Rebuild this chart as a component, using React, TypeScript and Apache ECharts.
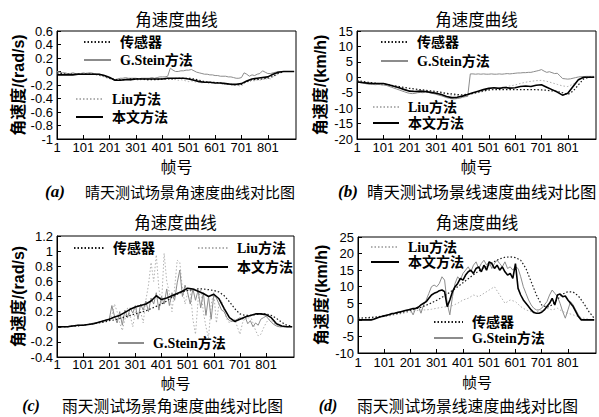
import React, { useEffect, useRef } from 'react';
import * as echarts from 'echarts';

// Frame grids
const F20 = [1, 21, 41, 61, 81, 101, 121, 141, 161, 181,
  201, 221, 241, 261, 281, 301, 321, 341, 361, 381,
  401, 421, 441, 461, 481, 501, 521, 541, 561, 581,
  601, 621, 641, 661, 681, 701, 721, 741, 761, 781,
  801, 821, 841, 861, 881, 901];
const F10 = [1, 11, 21, 31, 41, 51, 61, 71, 81, 91,
  101, 111, 121, 131, 141, 151, 161, 171, 181, 191,
  201, 211, 221, 231, 241, 251, 261, 271, 281, 291,
  301, 311, 321, 331, 341, 351, 361, 371, 381, 391,
  401, 411, 421, 431, 441, 451, 461, 471, 481, 491,
  501, 511, 521, 531, 541, 551, 561, 571, 581, 591,
  601, 611, 621, 631, 641, 651, 661, 671, 681, 691,
  701, 711, 721, 731, 741, 751, 761, 771, 781, 791,
  801, 811, 821, 831, 841, 851, 861, 871, 881, 891,
  901];
const X_TICKS = [1, 101, 201, 301, 401, 501, 601, 701, 801];

// (a) sunny, angular velocity
const A_SENSOR = [-0.02, -0.03, -0.04, -0.04, -0.04, -0.04, -0.04, -0.04, -0.05, -0.07,
  -0.10, -0.12, -0.12, -0.12, -0.11, -0.11, -0.11, -0.12, -0.12, -0.12,
  -0.11, -0.11, -0.11, -0.10, -0.10, -0.10, -0.11, -0.13, -0.15, -0.16,
  -0.16, -0.17, -0.18, -0.19, -0.20, -0.19, -0.15, -0.12, -0.12, -0.11,
  -0.10, -0.07, -0.03, 0, 0, 0];
const A_OURS = [-0.05, -0.05, -0.05, -0.05, -0.04, -0.04, -0.04, -0.04, -0.04, -0.06,
  -0.09, -0.13, -0.13, -0.12, -0.12, -0.11, -0.11, -0.11, -0.11, -0.11,
  -0.11, -0.10, -0.10, -0.10, -0.10, -0.11, -0.13, -0.15, -0.16, -0.16,
  -0.17, -0.17, -0.18, -0.19, -0.19, -0.18, -0.14, -0.11, -0.10, -0.09,
  -0.08, -0.04, -0.01, 0, 0, 0];
const A_GSTEIN = [0.00, -0.01, -0.02, -0.02, -0.03, -0.03, -0.02, -0.03, -0.03, -0.03,
  -0.02, -0.03, -0.02, -0.02, -0.03, -0.04, -0.04, -0.05, -0.06, -0.08,
  -0.09, -0.11, -0.12, -0.11, -0.10, -0.10, -0.09, -0.10, -0.10, -0.10,
  -0.10, -0.11, -0.10, -0.10, -0.10, -0.10, -0.09, -0.10, -0.09, -0.08,
  -0.08, -0.08, -0.07, 0.05, 0.02, 0.00, 0.00, 0.01, 0.01, 0.02,
  0.02, 0.03, 0.01, -0.01, -0.02, -0.03, -0.04, -0.04, -0.05, -0.05,
  -0.06, -0.06, -0.07, -0.07, -0.07, -0.08, -0.08, -0.09, -0.10, -0.10,
  -0.09, -0.02, -0.04, -0.07, -0.05, -0.06, -0.04, -0.03, 0.01, -0.01,
  -0.03, -0.03, -0.02, -0.01, 0.00, 0.00, 0.00, 0.00, 0.00, 0.00,
  0.00];
const A_LIU = [-0.02, -0.03, -0.01, -0.04, -0.03, -0.04, -0.02, -0.04, -0.03, -0.04,
  -0.03, -0.02, -0.04, -0.03, -0.04, -0.05, -0.06, -0.07, -0.08, -0.10,
  -0.11, -0.12, -0.13, -0.12, -0.13, -0.12, -0.11, -0.12, -0.13, -0.12,
  -0.12, -0.13, -0.12, -0.12, -0.13, -0.12, -0.11, -0.12, -0.12, -0.11,
  -0.12, -0.11, -0.10, -0.11, -0.12, -0.12, -0.13, -0.12, -0.13, -0.14,
  -0.15, -0.14, -0.15, -0.16, -0.15, -0.17, -0.16, -0.17, -0.18, -0.17,
  -0.18, -0.17, -0.18, -0.19, -0.18, -0.19, -0.20, -0.19, -0.20, -0.21,
  -0.22, -0.17, -0.15, -0.16, -0.13, -0.14, -0.12, -0.13, -0.11, -0.12,
  -0.10, -0.11, -0.08, -0.06, -0.03, -0.01, 0.00, 0.00, 0.00, 0.00,
  0.00];

// (b) sunny, linear velocity
const B_SENSOR = [-1.0, -1.3, -1.6, -1.8, -2.0, -2.1, -2.4, -2.7, -3.0, -3.3,
  -3.6, -3.8, -4.0, -4.2, -4.4, -4.6, -4.9, -5.2, -5.4, -5.6,
  -5.7, -5.5, -5.2, -4.8, -4.4, -4.1, -4.0, -4.0, -4.0, -4.0,
  -4.0, -4.0, -4.0, -4.0, -4.0, -4.1, -4.2, -4.4, -4.6, -5.0,
  -5.6, -4.5, -2.5, -0.5, 0, 0];
const B_OURS = [-1.5, -1.7, -1.9, -2.0, -2.0, -2.0, -2.4, -2.9, -3.4, -4.0,
  -4.5, -4.6, -4.5, -4.6, -4.9, -5.2, -5.6, -6.2, -6.6, -6.5,
  -6.1, -5.6, -5.0, -4.5, -4.0, -3.6, -3.4, -3.6, -3.3, -3.5,
  -3.4, -3.0, -2.8, -3.0, -2.6, -2.4, -3.2, -4.0, -4.8, -5.8,
  -5.2, -3.0, -0.8, 0, 0, 0];
const B_GSTEIN = [-1.5, -1.7, -1.9, -2.0, -2.2, -2.3, -2.3, -2.4, -2.3, -2.4,
  -2.5, -2.6, -2.9, -3.2, -3.5, -3.8, -4.1, -4.4, -4.7, -5.0,
  -5.2, -5.3, -5.2, -5.0, -4.9, -5.0, -4.8, -4.9, -5.1, -5.3,
  -5.5, -5.8, -6.0, -6.3, -6.6, -6.8, -7.0, -7.0, -6.9, -6.8,
  -6.5, -6.3, -6.2, 1.1, 1.1, 1.0, 1.1, 1.0, 1.1, 1.0,
  1.0, 1.1, 1.0, 1.0, 1.1, 1.0, 1.1, 1.2, 1.1, 1.2,
  1.3, 1.4, 1.4, 1.5, 1.5, 1.6, 1.6, 1.8, 2.0, 2.2,
  2.5, 2.0, 1.6, 1.8, 1.5, 1.2, 1.3, 0.5, -0.4, -0.5,
  -0.6, -0.5, -0.3, -0.1, 0.1, 0.2, 0.2, 0.3, 0.3, 0.3,
  0.3];
const B_LIU = [-1.3, -1.6, -1.9, -2.1, -2.3, -2.5, -2.8, -3.1, -3.5, -3.9,
  -4.3, -4.5, -4.6, -4.7, -4.8, -5.0, -5.2, -5.5, -5.8, -6.0,
  -6.0, -5.7, -5.4, -5.0, -4.6, -4.2, -3.8, -3.4, -3.1, -2.8,
  -2.5, -2.0, -1.6, -1.3, -1.1, -1.0, -1.3, -1.8, -2.3, -2.8,
  -3.0, -2.2, -1.0, -0.2, 0, 0];

// (c) rainy, angular velocity
const C_SENSOR = [0.00, 0.00, 0.00, 0.01, 0.01, 0.02, 0.03, 0.04, 0.05, 0.06,
  0.08, 0.09, 0.11, 0.13, 0.15, 0.17, 0.19, 0.21, 0.24, 0.27,
  0.30, 0.34, 0.39, 0.43, 0.46, 0.48, 0.49, 0.50, 0.50, 0.49,
  0.48, 0.46, 0.41, 0.33, 0.24, 0.17, 0.15, 0.15, 0.16, 0.17,
  0.17, 0.15, 0.11, 0.06, 0.02, 0.01];
const C_OURS = [0.00, 0.00, 0.00, 0.01, 0.02, 0.02, 0.03, 0.04, 0.06, 0.08,
  0.10, 0.13, 0.15, 0.19, 0.23, 0.26, 0.28, 0.30, 0.34, 0.41,
  0.36, 0.38, 0.41, 0.44, 0.47, 0.51, 0.50, 0.47, 0.44, 0.40,
  0.43, 0.37, 0.24, 0.12, 0.07, 0.10, 0.13, 0.15, 0.17, 0.17,
  0.16, 0.12, 0.04, 0.01, 0.00, 0.00];
const C_GSTEIN = [0.00, 0.00, 0.00, 0.00, 0.00, 0.01, 0.01, 0.01, 0.02, 0.02,
  0.02, 0.03, 0.03, 0.04, 0.05, 0.05, 0.06, 0.07, 0.08, 0.09,
  0.10, 0.28, 0.14, 0.05, 0.20, 0.02, 0.22, 0.12, 0.25, 0.18,
  0.28, 0.10, 0.30, 0.22, 0.34, 0.20, 0.38, 0.30, 0.45, 0.22,
  0.40, 0.30, 0.50, 0.28, 0.45, 0.35, 0.58, 0.75, 0.40, 0.55,
  0.45, 0.30, 0.50, 0.35, 0.48, 0.25, 0.45, 0.15, 0.40, 0.10,
  0.42, 0.38, 0.30, 0.22, 0.20, 0.12, 0.08, 0.07, 0.08, 0.10,
  0.12, 0.10, 0.13, 0.04, 0.08, 0.00, 0.05, 0.02, 0.10, 0.12,
  0.14, 0.10, 0.06, 0.03, 0.01, 0.00, 0.00, 0.00, 0.00, 0.00,
  0.00];
const C_LIU = [0.00, 0.00, 0.00, 0.00, 0.00, 0.00, 0.01, 0.01, 0.01, 0.02,
  0.02, 0.03, 0.03, 0.04, 0.04, 0.05, 0.06, 0.07, 0.08, 0.09,
  0.10, 0.15, 0.30, 0.20, 0.05, -0.05, 0.10, 0.25, 0.15, 0.00,
  0.20, 0.30, 0.20, 0.05, 0.35, 0.55, 0.85, 0.60, 0.95, 0.50,
  0.30, 0.97, 0.60, 0.45, 0.20, 0.50, 0.88, 0.85, 0.50, 0.30,
  0.45, 0.50, 0.10, -0.10, 0.35, 0.50, 0.20, 0.00, -0.15, 0.30,
  0.45, 0.05, 0.30, 0.35, 0.20, 0.10, 0.05, 0.08, 0.10, 0.00,
  -0.10, 0.05, 0.12, 0.10, 0.15, 0.05, -0.05, -0.12, -0.10, -0.02,
  0.05, 0.10, 0.08, 0.05, 0.02, 0.00, 0.00, 0.00, 0.00, 0.00,
  0.00];

// (d) rainy, linear velocity
const D_SENSOR = [0.5, 0.6, 0.7, 0.8, 1.0, 1.2, 1.5, 1.8, 2.1, 2.5,
  2.9, 3.3, 3.8, 4.4, 5.1, 5.9, 6.8, 7.8, 8.9, 10.0,
  11.2, 12.4, 13.6, 14.7, 15.7, 16.6, 17.6, 18.4, 18.9, 19.0,
  18.8, 18.0, 15.5, 11.5, 7.5, 4.5, 3.8, 4.5, 6.2, 7.8,
  8.5, 8.4, 7.2, 5.0, 2.5, 0.5];
const D_OURS = [0, 0, 0, 0, 0, 0, 0.2, 0.5, 0.8, 1.0,
  1.2, 1.4, 1.6, 1.9, 2.0, 2.2, 2.4, 2.6, 2.8, 3.0,
  3.2, 3.4, 3.5, 3.8, 4.5, 5.0, 5.5, 6.5, 7.5, 8.0,
  8.3, 8.8, 9.0, 8.5, 4.0, 6.0, 8.5, 10.0, 11.0, 12.5,
  12.0, 13.5, 14.5, 15.0, 14.0, 15.5, 16.0, 14.5, 16.5, 15.0,
  17.5, 17.0, 15.5, 16.5, 15.0, 16.0, 14.5, 13.5, 14.0, 12.5,
  17.0, 9.5, 7.5, 6.0, 5.0, 4.0, 3.0, 2.2, 2.0, 2.0,
  2.3, 3.0, 4.0, 5.0, 6.5, 4.5, 7.5, 7.8, 7.0, 7.2,
  6.0, 5.0, 4.0, 2.5, 1.0, 0, 0, 0, 0, 0,
  0];
const D_GSTEIN = [0, 0, 0, 0, 0, 0, 0.3, 0.6, 0.8, 1.0,
  1.2, 1.5, 1.7, 1.8, 2.1, 2.3, 2.5, 2.5, 2.8, 3.0,
  3.0, 1.5, 3.5, 4.0, 2.0, 4.5, 6.0, 8.0, 10.0, 10.5,
  10.0, 11.0, 13.0, 12.0, 5.0, 1.5, 7.0, 11.0, 13.0, 12.0,
  14.0, 15.0, 16.0, 14.5, 16.5, 17.5, 15.5, 17.0, 18.0, 16.5,
  17.5, 15.5, 17.0, 18.0, 17.0, 16.0, 17.5, 15.5, 16.0, 15.0,
  16.0, 15.5, 13.0, 10.0, 8.0, 6.0, 4.5, 3.5, 3.0, 3.0,
  3.5, 4.5, 5.5, 7.5, 9.0, 8.0, 7.0, 5.0, 2.5, 0.5,
  3.0, 5.5, 4.5, 3.0, 1.5, 0.3, 0, 0, 0, 0,
  0];
const D_LIU = [0.2, 0.3, 0.4, 0.6, 0.8, 1.0, 1.2, 1.5, 1.8, 2.1,
  2.4, 2.7, 3.0, 3.0, 3.2, 3.5, 3.8, 4.0, 4.3, 5.0,
  6.0, 6.5, 7.5, 7.0, 8.0, 9.0, 10.0, 7.5, 5.0, 6.0,
  5.5, 4.0, 3.0, 2.5, 2.5, 2.8, 3.5, 3.0, 3.5, 2.5,
  2.0, 1.5, 1.0, 0.5, 0.2, 0];

const N_SENSOR = '传感器';
const N_GSTEIN = 'G.Stein方法';
const N_LIU = 'Liu方法';
const N_OURS = '本文方法';

const TITLE = '角速度曲线';
const X_NAME = '帧号';
const Y_NAMES = ['角速度/(rad/s)', '角速度/(km/h)', '角速度/(rad/s)', '角速度/(km/h)'];
const CAPTION_TAGS = ['(a)', '(b)', '(c)', '(d)'];
const CAPTIONS = ['晴天测试场景角速度曲线对比图', '晴天测试场景线速度曲线对比图', '雨天测试场景角速度曲线对比图', '雨天测试场景线速度曲线对比图'];

const FONT_SANS = "'Liberation Sans', Arial, 'Noto Sans CJK SC', sans-serif";
const FONT_SERIF = "'Liberation Serif', 'Times New Roman', 'Noto Sans CJK SC', serif";
const FONT_CJK = "'Noto Sans CJK SC', sans-serif";

const pair = (xs: number[], ys: number[]) => xs.map((x, i) => [x, ys[i]]);

const PANEL_DATA = [
  { sensor: pair(F20, A_SENSOR), gstein: pair(F10, A_GSTEIN), liu: pair(F10, A_LIU), ours: pair(F20, A_OURS) },
  { sensor: pair(F20, B_SENSOR), gstein: pair(F10, B_GSTEIN), liu: pair(F20, B_LIU), ours: pair(F20, B_OURS) },
  { sensor: pair(F20, C_SENSOR), gstein: pair(F10, C_GSTEIN), liu: pair(F10, C_LIU), ours: pair(F20, C_OURS) },
  { sensor: pair(F20, D_SENSOR), gstein: pair(F10, D_GSTEIN), liu: pair(F20, D_LIU), ours: pair(F10, D_OURS) },
];

const GRIDS = [
  { left: 57, top: 31, width: 239, height: 108 },
  { left: 357, top: 31, width: 239, height: 108 },
  { left: 57, top: 236, width: 237, height: 121 },
  { left: 358, top: 237, width: 238, height: 116 },
];
const Y_RANGES = [
  { min: -1, max: 0.6, interval: 0.2 },
  { min: -20, max: 15, interval: 5 },
  { min: -0.4, max: 1.2, interval: 0.2 },
  { min: -10, max: 25, interval: 5 },
];
const X_NAME_GAPS = [19, 19, 18, 21];
const X_NAME_SIZES = [16, 16, 15, 15];
const X_LABEL_MARGINS = [2, 2, 1, 3];

const STYLES: Record<string, any> = {
  [N_SENSOR]: { color: '#1a1a1a', width: 1.2, type: [1.5, 2] },
  [N_GSTEIN]: { color: '#8c8c8c', width: 1, type: 'solid' },
  [N_LIU]: { color: '#b0b0b0', width: 1, type: [1.5, 2] },
  [N_OURS]: { color: '#000000', width: 1.6, type: 'solid' },
};

function buildOption() {
  const grid = GRIDS.map((g) => ({ ...g, show: true, borderColor: '#000', borderWidth: 1, backgroundColor: 'transparent' }));
  const xAxis = GRIDS.map((_, i) => ({
    type: 'value', gridIndex: i, min: 1, max: 908, interval: 100,
    name: X_NAME, nameLocation: 'middle', nameGap: X_NAME_GAPS[i],
    nameTextStyle: { fontFamily: FONT_CJK, fontSize: X_NAME_SIZES[i], color: '#000' },
    axisLine: { show: true, onZero: false, lineStyle: { color: '#000', width: 1 } },
    axisTick: { show: true, inside: true, length: 4, customValues: X_TICKS, lineStyle: { color: '#000' } },
    axisLabel: {
      customValues: X_TICKS, margin: X_LABEL_MARGINS[i], color: '#000', fontFamily: FONT_SANS, fontSize: 13,
      formatter: (v: number) => (X_TICKS.indexOf(v) >= 0 ? String(v) : ''),
    },
    splitLine: { show: false },
  }));
  const yAxis = GRIDS.map((_, i) => ({
    type: 'value', gridIndex: i, ...Y_RANGES[i],
    name: Y_NAMES[i], nameLocation: 'middle', nameGap: 29, nameRotate: 90,
    nameTextStyle: { fontFamily: FONT_SANS, fontWeight: 'bold', fontSize: 16, color: '#000' },
    axisLine: { show: true, onZero: false, lineStyle: { color: '#000', width: 1 } },
    axisTick: { show: true, inside: true, length: 4, lineStyle: { color: '#000' } },
    axisLabel: { margin: 4, color: '#000', fontFamily: FONT_SANS, fontSize: 13, showMinLabel: true, showMaxLabel: true },
    splitLine: { show: false },
  }));

  const series: any[] = [];
  PANEL_DATA.forEach((p, i) => {
    const items: [string, number[][]][] = [[N_LIU, p.liu], [N_GSTEIN, p.gstein], [N_SENSOR, p.sensor], [N_OURS, p.ours]];
    items.forEach(([name, data], k) => {
      const s = STYLES[name];
      series.push({
        type: 'line', name, xAxisIndex: i, yAxisIndex: i, data,
        symbol: 'none', silent: true, z: 2 + k,
        itemStyle: { color: s.color },
        lineStyle: { color: s.color, width: s.width, type: s.type },
      });
    });
  });

  const legendText = { fontFamily: FONT_SERIF, fontWeight: 'bold', fontSize: 14, color: '#000', lineHeight: 14, padding: [0, 0, 0, 4] };
  const mkLegend = (data: string[], left: number, top: number, itemGap: number, itemWidth: number) => ({
    data, left, top, itemGap, itemWidth, itemHeight: 14, orient: 'vertical', padding: 0,
    selectedMode: false, textStyle: legendText, align: 'left',
    itemStyle: { opacity: 0, borderWidth: 0 },
  });
  const legend = [
    mkLegend([N_SENSOR, N_GSTEIN], 83, 35, 4, 27),
    mkLegend([N_LIU, N_OURS], 75, 92, 4, 27),
    mkLegend([N_SENSOR, N_GSTEIN], 380, 35, 5, 27),
    mkLegend([N_LIU, N_OURS], 372, 100, 2, 26),
    mkLegend([N_SENSOR], 73, 241, 5, 30),
    mkLegend([N_LIU, N_OURS], 197, 241, 5, 30),
    mkLegend([N_GSTEIN], 117, 336, 5, 26),
    mkLegend([N_LIU, N_OURS], 370, 240, 1, 28),
    mkLegend([N_SENSOR, N_GSTEIN], 433, 315, 2, 29),
  ];

  const titlePos = [[176.5, 19], [476.5, 19], [175.5, 222], [477, 222]];
  const capTag = [[55, 191, 17], [348, 191, 17], [31, 405, 16], [328, 405, 16]];
  const capText = [[85, 191, 15], [367, 191, 16.4], [62, 405, 15.8], [357, 405, 15.8]];
  const graphic: any[] = [];
  titlePos.forEach(([x, y]) => {
    graphic.push({ type: 'text', x, y, silent: true, style: { text: TITLE, fill: '#000', fontFamily: FONT_CJK, fontSize: 16.5, align: 'center', verticalAlign: 'middle', textAlign: 'center', textVerticalAlign: 'middle' } });
  });
  CAPTION_TAGS.forEach((t, i) => {
    const [x, y, fs] = capTag[i];
    graphic.push({ type: 'text', x, y, silent: true, style: { text: t, fill: '#000', fontFamily: FONT_SERIF, fontWeight: 'bold', fontStyle: 'italic', fontSize: fs, align: 'center', verticalAlign: 'middle', textAlign: 'center', textVerticalAlign: 'middle' } });
    const [cx, cy, cfs] = capText[i];
    graphic.push({ type: 'text', x: cx, y: cy, silent: true, style: { text: CAPTIONS[i], fill: '#000', fontFamily: FONT_CJK, fontSize: cfs, align: 'left', verticalAlign: 'middle', textAlign: 'left', textVerticalAlign: 'middle' } });
  });

  return {
    animation: false,
    backgroundColor: '#fff',
    grid, xAxis, yAxis, series, legend, graphic,
  };
}

export default function App() {
  const ref = useRef<HTMLDivElement>(null);
  useEffect(() => {
    document.body.style.margin = '0';
    const chart = echarts.init(ref.current!, null, { renderer: 'svg' });
    chart.setOption(buildOption() as any);
    return () => chart.dispose();
  }, []);
  return <div ref={ref} style={{ width: 599, height: 417, background: '#fff' }} />;
}
